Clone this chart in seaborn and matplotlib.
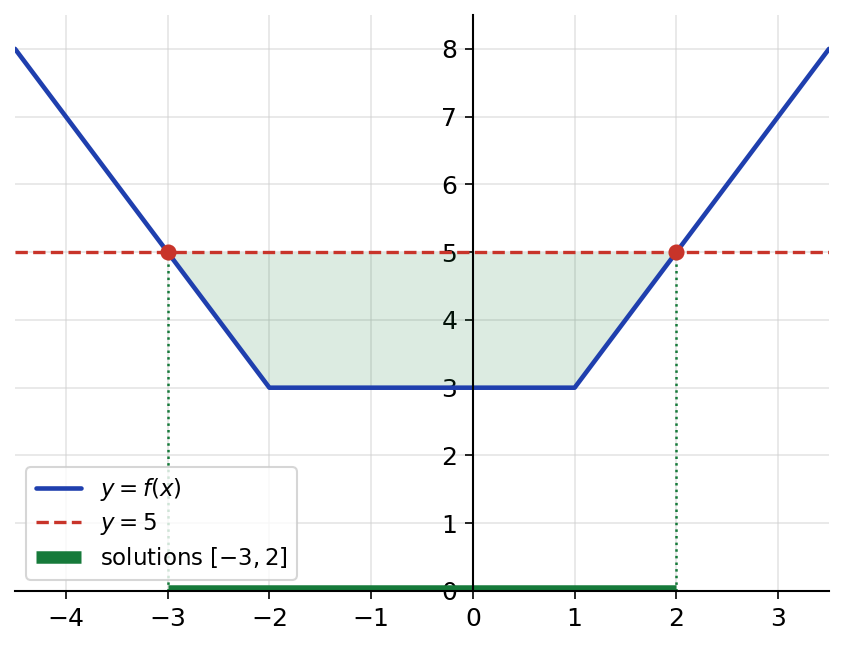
import numpy as np
import seaborn as sns
from matplotlib import pyplot as plt

# piecewise-linear f(x) vertices
f_x = [-4.5, -2, 1, 3.5]
f_y = [8, 3, 3, 8]
# shaded region between f and y=5
fill_x = [-3, -2, 1, 2]
fill_y = [5, 3, 3, 5]
level = 5
sol_x = [-3, 2]
xticks = [-4, -3, -2, -1, 0, 1, 2, 3]
yticks = [0, 1, 2, 3, 4, 5, 6, 7, 8]

blue = '#1f3fae'
red = '#c8342a'
green = '#167a3a'

sns.set_style('white')
plt.rcParams['text.color'] = 'black'
fig = plt.figure(figsize=(5.62, 4.3267), dpi=150)
ax = fig.add_axes([0.0178, 0.0894, 0.9656, 0.8875])

ax.fill_between(fill_x, fill_y, level, color=green, alpha=0.15, linewidth=0)
sns.lineplot(x=f_x, y=f_y, ax=ax, color=blue, linewidth=2.2, label='$y = f(x)$', zorder=3)
ax.axhline(level, color=red, linestyle='--', linewidth=1.6, label='$y = 5$', zorder=3)
for xs in sol_x:
    ax.plot([xs, xs], [0, level], color=green, linestyle=':', linewidth=1.2, zorder=2)
ax.plot(sol_x, [0, 0], color=green, linewidth=6, solid_capstyle='butt',
        label='solutions $[-3, 2]$', zorder=4)
ax.scatter(sol_x, [level, level], color=red, s=45, zorder=5)

ax.set_xlim(-4.5, 3.5)
ax.set_ylim(0, 8.5)
ax.set_xticks(xticks)
ax.set_yticks(yticks)
ax.tick_params(axis='both', labelsize=12, length=4, direction='out', colors='black')
ax.grid(True, color='#d0d0d0', alpha=0.55, linewidth=0.8)
ax.set_axisbelow(True)

ax.spines['left'].set_position(('data', 0))
ax.spines['bottom'].set_position(('data', 0))
ax.spines['top'].set_visible(False)
ax.spines['right'].set_visible(False)
for s in ['left', 'bottom']:
    ax.spines[s].set_color('black')
    ax.spines[s].set_linewidth(1.0)
    ax.spines[s].set_zorder(6)
ax.tick_params(axis='both', left=True, bottom=True)

leg = ax.legend(loc='lower left', fontsize=11, frameon=True, labelspacing=0.35)
for t in leg.get_texts():
    t.set_color('black')

fig.savefig('out.png', dpi=150)
